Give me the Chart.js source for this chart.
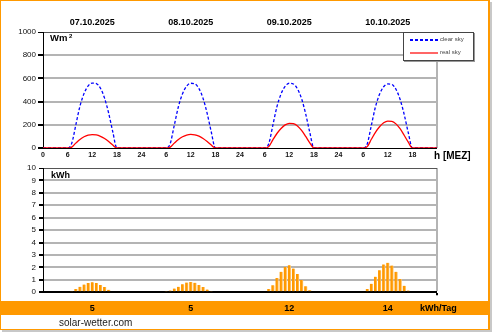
<!DOCTYPE html>
<html><head><meta charset="utf-8">
<script src="https://cdn.jsdelivr.net/npm/chart.js@4/dist/chart.umd.min.js"></script>
<style>
html,body{margin:0;padding:0;background:#fff;}
body{width:492px;height:332px;position:relative;overflow:hidden;font-family:Arial,"Liberation Sans",sans-serif;}
#frame{position:absolute;left:0;top:0;width:487px;height:328px;border-left:1px solid #FF9900;border-top:1px solid #FF9900;border-right:2px solid #FF9900;border-bottom:1px solid #FF9900;box-shadow:2px 2px 0 #c8c8c8;}
canvas{position:absolute;left:0;}
#c1{top:0;}
#c2{top:155px;}
.lbl{position:absolute;white-space:nowrap;color:#000;}
.date{font-weight:bold;font-size:9px;top:17px;transform:translateX(-50%);}
.tot{font-weight:bold;font-size:9px;top:303px;transform:translateX(-50%);}
#band{position:absolute;left:1px;top:301px;width:488px;height:14px;background:#FF9900;}
#legend{position:absolute;left:403px;top:32px;width:69px;height:27px;border:1px solid #444;background:#fff;box-shadow:1px 1px 0 #999;}
.ls{position:absolute;font-size:6px;color:#444;}
</style>
</head><body>
<div id="frame"></div>
<div id="band"></div>
<canvas id="c1" width="492" height="165"></canvas>
<canvas id="c2" width="492" height="145"></canvas>
<div class="lbl" style="left:50px;top:32px;font-size:9.5px;font-weight:bold;">Wm<span style="font-size:6px;vertical-align:3px;"> 2</span></div>
<div class="lbl" style="left:51px;top:170px;font-size:9px;font-weight:bold;">kWh</div>
<div class="lbl" style="left:434px;top:150px;font-size:10px;font-weight:bold;">h [MEZ]</div>
<div class="lbl" style="left:420px;top:303px;font-size:9px;font-weight:bold;">kWh/Tag</div>
<div class="lbl" style="left:59px;top:317px;font-size:10px;color:#222;">solar-wetter.com</div>
<div id="legend">
  <div style="position:absolute;left:6px;top:6px;width:29px;height:1.5px;background:repeating-linear-gradient(90deg,#0000ff 0 3px,transparent 3px 5px);"></div>
  <span class="ls" style="left:36px;top:3px;">clear sky</span>
  <div style="position:absolute;left:6px;top:19px;width:28px;height:2px;background:#ff6666;"></div>
  <span class="ls" style="left:36px;top:16px;">real sky</span>
</div>
<script>
// ---- data ----
const dates = ["07.10.2025", "08.10.2025", "09.10.2025", "10.10.2025"];
const dayTotals = ["5", "5", "12", "14"];
// hourly irradiance W/m², index = hour of day (0..23)
const clearDay1 = [0,0,0,0,0,0,0,40,200,360,470,535,560,555,515,430,300,140,0,0,0,0,0,0];
const clearDay2 = [0,0,0,0,0,0,0,38,198,358,468,533,558,553,512,428,298,138,0,0,0,0,0,0];
const clearDay3 = [0,0,0,0,0,0,0,36,196,356,466,532,558,552,510,425,295,135,0,0,0,0,0,0];
const clearDay4 = [0,0,0,0,0,0,0,35,194,354,463,528,552,548,506,420,290,132,0,0,0,0,0,0];
const realDay1 = [0,0,0,0,0,0,0,8,42,74,97,111,116,113,101,82,56,25,0,0,0,0,0,0];
const realDay2 = [0,0,0,0,0,0,0,8,42,74,97,112,117,114,102,82,56,25,0,0,0,0,0,0];
const realDay3 = [0,0,0,0,0,0,0,12,70,125,168,199,213,210,190,152,100,45,0,0,0,0,0,0];
const realDay4 = [0,0,0,0,0,0,0,12,75,135,183,217,232,230,208,166,110,50,0,0,0,0,0,0];
// hourly energy kWh for hours 6..17
const barHours = [6,7,8,9,10,11,12,13,14,15,16,17];
const kwhDay1 = [0.08,0.1,0.26,0.44,0.62,0.75,0.8,0.75,0.57,0.42,0.2,0.08];
const kwhDay2 = [0.1,0.13,0.29,0.44,0.65,0.78,0.83,0.76,0.57,0.42,0.21,0.1];
const kwhDay3 = [0.08,0.26,0.55,1.15,1.64,2.03,2.16,1.9,1.46,0.99,0.47,0.16];
const kwhDay4 = [0.08,0.26,0.68,1.25,1.77,2.24,2.37,2.14,1.64,1.07,0.52,0.13];
const yTicksTop = [0,200,400,600,800,1000];

// ---- build series ----
function series(days){
  const out=[];
  days.forEach((d,di)=>d.forEach((v,h)=>out.push({x:di*24+h,y:v})));
  out.push({x:96,y:0});
  return out;
}
const clearData = series([clearDay1,clearDay2,clearDay3,clearDay4]);
const realData = series([realDay1,realDay2,realDay3,realDay4]);
const barData = [];
[kwhDay1,kwhDay2,kwhDay3,kwhDay4].forEach((d,di)=>d.forEach((v,i)=>barData.push({x:di*24+barHours[i],y:v})));

const font = {family:'Arial, "Liberation Sans", sans-serif'};

const c1 = new Chart(document.getElementById('c1'),{
  type:'line',
  data:{datasets:[
    {label:'real sky',data:realData,borderColor:'#ff0000',borderWidth:1.3,pointRadius:0,cubicInterpolationMode:'monotone'},
    {label:'clear sky',data:clearData,borderColor:'#0000ff',borderWidth:1.3,borderDash:[3,2],pointRadius:0,cubicInterpolationMode:'monotone'}
  ]},
  options:{
    responsive:false,animation:false,
    layout:{padding:{left:0,right:55,top:32,bottom:0}},
    plugins:{legend:{display:false},tooltip:{enabled:false}},
    scales:{
      x:{type:'linear',min:0,max:96,
        ticks:{stepSize:6,autoSkip:false,maxRotation:0,padding:1,color:'#111',font:{...font,size:7,weight:'bold'},
          callback:v=> v===96?'':(v===0?'0':(v%24===0?'24':String(v%24)))},
        grid:{color:c=>c.tick && c.tick.value===96?'#b4b4b4':'rgba(0,0,0,0)',lineWidth:c=>c.tick&&c.tick.value===96?2:0,tickColor:'rgba(0,0,0,0)',tickLength:2},
        border:{color:'#000',width:1},
        afterFit:s=>{s.height=17;}
      },
      y:{min:0,max:1000,
        afterBuildTicks:s=>{s.ticks=yTicksTop.map(v=>({value:v}));},
        ticks:{padding:2,color:'#111',font:{...font,size:8},callback:v=>String(v)},
        grid:{color:c=>c.tick.value===1000?'#555':(c.tick.value===0?'rgba(0,0,0,0)':'#b4b4b4'),lineWidth:c=>c.tick.value===1000?1:2,tickColor:'#000',tickLength:5},
        border:{color:'#000',width:1},
        afterFit:s=>{s.width=43;}
      }
    }
  }
});

const c2 = new Chart(document.getElementById('c2'),{
  type:'bar',
  data:{datasets:[{data:barData,backgroundColor:'#ff9900',borderColor:'#ffc266',borderWidth:{right:1,left:0,top:0,bottom:0},barThickness:3,borderSkipped:false}]},
  options:{
    responsive:false,animation:false,
    layout:{padding:{left:0,right:55,top:13,bottom:0}},
    plugins:{legend:{display:false},tooltip:{enabled:false}},
    scales:{
      x:{type:'linear',min:0,max:96,offset:false,
        ticks:{stepSize:6,display:false},
        grid:{color:c=>c.tick && c.tick.value===96?'#b4b4b4':'rgba(0,0,0,0)',lineWidth:c=>c.tick&&c.tick.value===96?2:0,tickColor:'#000',tickLength:3,offset:false},
        border:{color:'#000',width:2},
        afterFit:s=>{s.height=4;}
      },
      y:{min:0,max:10,
        ticks:{stepSize:1,padding:3,color:'#111',font:{...font,size:8}},
        grid:{color:c=>c.tick.value===10?'#555':(c.tick.value===0?'rgba(0,0,0,0)':'#b4b4b4'),lineWidth:c=>c.tick.value===10?1:2,tickColor:'#000',tickLength:4},
        border:{color:'#000',width:1},
        afterFit:s=>{s.width=43;}
      }
    }
  }
});

// date titles and day totals positioned through the chart's x scale
const xs1 = c1.scales.x, xs2 = c2.scales.x;
dates.forEach((d,i)=>{
  const el=document.createElement('div');el.className='lbl date';el.textContent=d;
  el.style.left=xs1.getPixelForValue(i*24+12)+'px';document.body.appendChild(el);
});
dayTotals.forEach((t,i)=>{
  const el=document.createElement('div');el.className='lbl tot';el.textContent=t;
  el.style.left=xs2.getPixelForValue(i*24+12)+'px';document.body.appendChild(el);
});
</script>
</body></html>
